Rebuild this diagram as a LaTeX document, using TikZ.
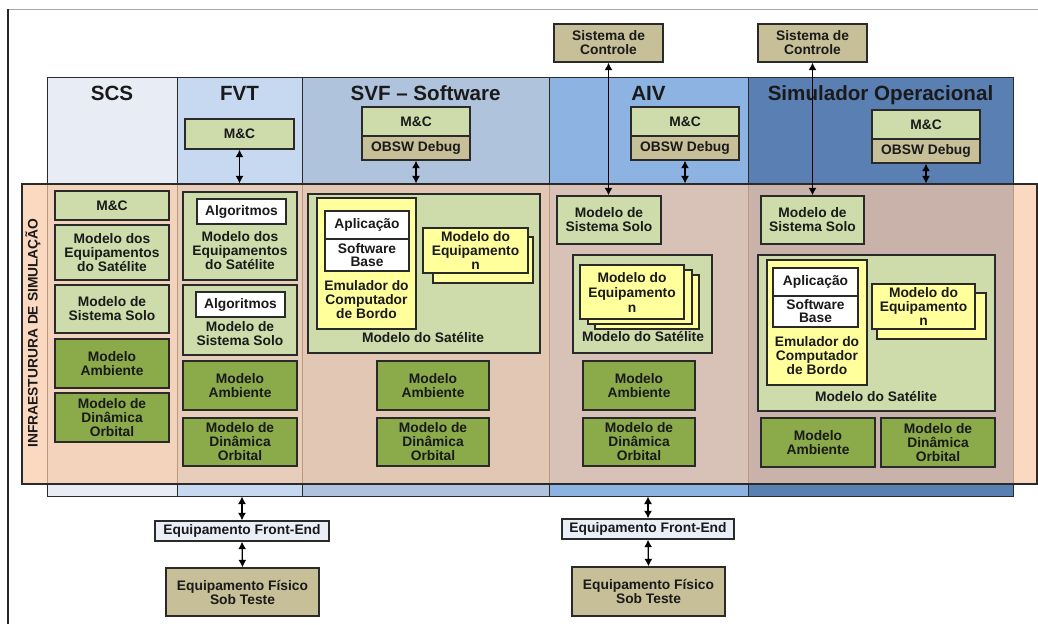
\documentclass[tikz,border=0pt]{standalone}
\usepackage{fontspec}
\setmainfont{Liberation Sans}
\usetikzlibrary{arrows.meta}

\definecolor{lgreen}{HTML}{CDDCAA}
\definecolor{dgreen}{HTML}{8BAA4A}
\definecolor{khaki}{HTML}{C6BF97}
\definecolor{yel}{HTML}{FFFF9C}
\definecolor{fefill}{HTML}{E9EEF7}
\definecolor{cSCS}{HTML}{E8EDF5}
\definecolor{cFVT}{HTML}{C6D9F1}
\definecolor{cSVF}{HTML}{B0C3DD}
\definecolor{cAIV}{HTML}{8DB3E2}
\definecolor{cOP}{HTML}{5A7FB3}
\definecolor{infrafill}{HTML}{F9C9A5}
\definecolor{textc}{HTML}{1A1A1A}
\definecolor{boxline}{HTML}{2A2A2A}

\newcommand{\boxfont}{\fontsize{13.8}{14}\selectfont\bfseries}
\newcommand{\titlefont}{\fontsize{20.6}{22}\selectfont\bfseries}

% box from its corners: style, x1, y1, x2, y2, name, text
\newcommand{\bx}[7]{\node[#1,minimum width={#4-#2},minimum height={#5-#3}] (#6) at ({(#2+#4)/2},{(#3+#5)/2}) {#7};}

\begin{document}
\begin{tikzpicture}[x=1pt,y=-1pt,
  box/.style={draw=boxline,line width=1.3pt,inner sep=0pt,align=center,font=\boxfont,text=textc},
  lg/.style={box,fill=lgreen},
  dg/.style={box,fill=dgreen},
  kh/.style={box,fill=khaki},
  yl/.style={box,fill=yel},
  wh/.style={box,fill=white},
  fe/.style={box,fill=fefill},
  colbox/.style={draw=boxline,line width=1pt,inner sep=0pt},
  infra/.style={draw=boxline,line width=1.1pt,inner sep=0pt,fill=infrafill,fill opacity=0.7},
  lbl/.style={inner sep=0pt,align=center,font=\boxfont,text=textc},
  ttl/.style={inner sep=0pt,anchor=base,font=\titlefont,text=textc},
  dbl/.style={{Latex[length=7.5pt,width=8pt]}-{Latex[length=7.5pt,width=8pt]},line width=1.3pt,draw=black}]
\useasboundingbox (0,0) rectangle (1038,624);

% page frame
\draw[gray!70,line width=1pt] (8,9) -- (1038,9);
\draw[black!85,line width=1.2pt] (8,9) -- (8,624);

% columns
\bx{colbox,fill=cSCS}{47}{77}{177}{496}{colSCS}{}
\bx{colbox,fill=cFVT}{177}{77}{302}{496}{colFVT}{}
\bx{colbox,fill=cSVF}{302}{77}{549}{496}{colSVF}{}
\bx{colbox,fill=cAIV}{549}{77}{748}{496}{colAIV}{}
\bx{colbox,fill=cOP}{748}{77}{1013}{496}{colOP}{}

\node[ttl] (tSCS) at (112,100) {SCS};
\node[ttl] (tFVT) at (239.5,100) {FVT};
\node[ttl] (tSVF) at (425.5,100) {SVF -- Software};
\node[ttl] (tAIV) at (648.5,100) {AIV};
\node[ttl] (tOP) at (880.5,100) {Simulador Operacional};

% monitoring and control boxes above the infrastructure
\bx{lg}{185}{119}{294}{149}{fvtMC}{M\&C}
\bx{lg}{362}{107}{470}{136}{svfMC}{M\&C}
\bx{kh}{362}{136}{470}{160}{svfDbg}{OBSW Debug}
\bx{lg}{631}{107}{739}{136}{aivMC}{M\&C}
\bx{kh}{631}{136}{739}{160}{aivDbg}{OBSW Debug}
\bx{lg}{872}{110}{980}{139}{opMC}{M\&C}
\bx{kh}{872}{139}{980}{163}{opDbg}{OBSW Debug}

\bx{kh}{554}{24}{663}{62}{aivCtl}{Sistema de\\Controle}
\bx{kh}{758}{24}{867}{62}{opCtl}{Sistema de\\Controle}

% simulation infrastructure band
\bx{infra}{22}{184}{1037}{484}{infra}{}
\node[lbl,rotate=90] (infraLbl) at (33,333) {INFRAESTURURA DE SIMULAÇÃO};

% SCS
\bx{lg}{55}{191}{169}{220}{scsMC}{M\&C}
\bx{lg}{55}{225}{169}{280}{scsEq}{Modelo dos\\Equipamentos\\do Satélite}
\bx{lg}{55}{285}{169}{333}{scsSolo}{Modelo de\\Sistema Solo}
\bx{dg}{55}{339}{169}{388}{scsAmb}{Modelo\\Ambiente}
\bx{dg}{55}{393}{169}{442}{scsOrb}{Modelo de\\Dinâmica\\Orbital}

% FVT
\bx{lg}{183}{192}{297}{280}{fvtEq}{}
\bx{wh}{197}{199}{286}{224}{fvtAlg1}{Algoritmos}
\node[lbl] (fvtEqLbl) at (240,251) {Modelo dos\\Equipamentos\\do Satélite};
\bx{lg}{183}{285}{297}{355}{fvtSolo}{}
\bx{wh}{196}{292}{285}{317}{fvtAlg2}{Algoritmos}
\node[lbl] (fvtSoloLbl) at (240,334) {Modelo de\\Sistema Solo};
\bx{dg}{183}{361}{297}{410}{fvtAmb}{Modelo\\Ambiente}
\bx{dg}{183}{418}{297}{466}{fvtOrb}{Modelo de\\Dinâmica\\Orbital}

% SVF - Software
\bx{lg}{308}{194}{540}{353}{svfSat}{}
\node[lbl] (svfSatLbl) at (423,338) {Modelo do Satélite};
\bx{yl}{317}{198}{416}{329}{svfEmu}{}
\bx{wh}{325}{211}{409}{239}{svfApp}{Aplicação}
\bx{wh}{325}{239}{409}{271}{svfBase}{Software\\[-1pt]Base}
\node[lbl] (svfEmuLbl) at (366.5,299.5) {Emulador do\\Computador\\de Bordo};
\bx{yl}{433}{237}{533}{283}{svfEqB}{}
\bx{yl}{423}{228}{528}{273}{svfEq}{Modelo do\\Equipamento\\n}
\bx{dg}{377}{361}{489}{410}{svfAmb}{Modelo\\Ambiente}
\bx{dg}{377}{418}{489}{466}{svfOrb}{Modelo de\\Dinâmica\\Orbital}

% AIV
\bx{lg}{557}{196}{661}{244}{aivSolo}{Modelo de\\Sistema Solo}
\bx{lg}{573}{255}{712}{353}{aivSat}{}
\node[lbl] (aivSatLbl) at (643,337) {Modelo do Satélite};
\bx{yl}{595}{275}{699}{329}{aivEq3}{}
\bx{yl}{588}{270}{692}{324}{aivEq2}{}
\bx{yl}{580}{265}{684}{319}{aivEq}{Modelo do\\[1pt]Equipamento\\[1pt]n}
\bx{dg}{583}{361}{695}{410}{aivAmb}{Modelo\\Ambiente}
\bx{dg}{583}{418}{695}{466}{aivOrb}{Modelo de\\Dinâmica\\Orbital}

% Simulador Operacional
\bx{lg}{761}{196}{864}{244}{opSolo}{Modelo de\\Sistema Solo}
\bx{lg}{758}{255}{995}{411}{opSat}{}
\node[lbl] (opSatLbl) at (876,397) {Modelo do Satélite};
\bx{yl}{767}{260}{867}{385}{opEmu}{}
\bx{wh}{773}{268}{858}{296}{opApp}{Aplicação}
\bx{wh}{773}{296}{858}{327}{opBase}{Software\\[-1pt]Base}
\node[lbl] (opEmuLbl) at (817,356) {Emulador do\\Computador\\de Bordo};
\bx{yl}{877}{293}{986}{339}{opEqB}{}
\bx{yl}{872}{284}{975}{329}{opEq}{Modelo do\\Equipamento\\n}
\bx{dg}{761}{418}{875}{467}{opAmb}{Modelo\\Ambiente}
\bx{dg}{881}{418}{995}{467}{opOrb}{Modelo de\\Dinâmica\\Orbital}

% hardware in the loop
\bx{fe}{155}{521}{329}{541}{fvtFE}{Equipamento Front-End}
\bx{kh}{166}{568}{319}{616}{fvtHW}{Equipamento Físico\\Sob Teste}
\bx{fe}{562}{519}{734}{539}{aivFE}{Equipamento Front-End}
\bx{kh}{572}{567}{725}{616}{aivHW}{Equipamento Físico\\Sob Teste}

% connectors
\draw[dbl] (fvtMC.south) -- (fvtMC.south |- infra.north);
\draw[dbl] (svfDbg.south) -- (svfDbg.south |- infra.north);
\draw[dbl] (aivDbg.south) -- (aivDbg.south |- infra.north);
\draw[dbl] (opDbg.south) -- (opDbg.south |- infra.north);
\draw[dbl] (aivCtl.south) -- (aivCtl.south |- aivSolo.north);
\draw[dbl] (opCtl.south) -- (opCtl.south |- opSolo.north);
\draw[dbl] (fvtFE.north |- colFVT.south) -- (fvtFE.north);
\draw[dbl] (fvtFE.south) -- (fvtHW.north);
\draw[dbl] (aivFE.north |- colAIV.south) -- (aivFE.north);
\draw[dbl] (aivFE.south) -- (aivHW.north);
\end{tikzpicture}
\end{document}
